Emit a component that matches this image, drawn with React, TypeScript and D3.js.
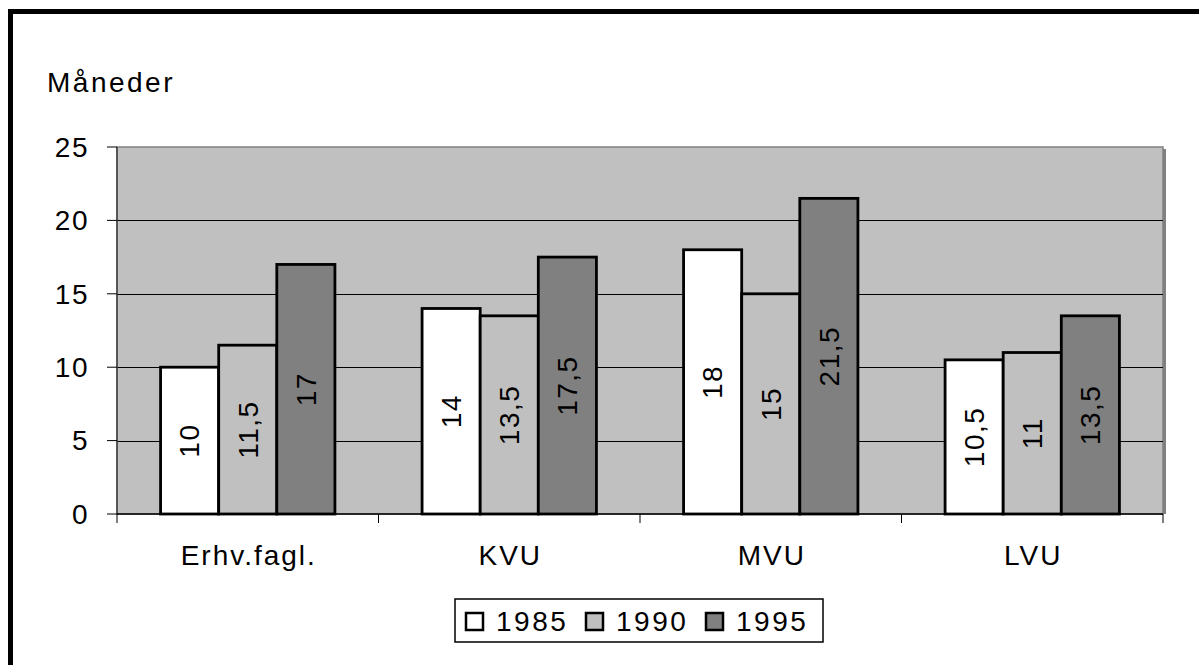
import React from "react";
import * as d3 from "d3";

const categories = ["Erhv.fagl.", "KVU", "MVU", "LVU"];
const seriesNames = ["1985", "1990", "1995"];
const values1985 = [10, 14, 18, 10.5];
const values1990 = [11.5, 13.5, 15, 11];
const values1995 = [17, 17.5, 21.5, 13.5];
const yTicks = [0, 5, 10, 15, 20, 25];
const seriesColors = ["#ffffff", "#c0c0c0", "#808080"];

const seriesValues = [values1985, values1990, values1995];

const W = 1199;
const H = 665;
const plot = { left: 117, top: 147, right: 1163, bottom: 514 };
const FONT = "'Liberation Sans', Arial, sans-serif";
const FS = 28;

const fmt = (v: number) => String(v).replace(".", ",");

export default function App() {
  const x0 = d3
    .scaleBand<string>()
    .domain(categories)
    .range([plot.left, plot.right])
    .padding(0);
  const band = x0.bandwidth();
  const w = band / 4.5;
  const x1 = d3
    .scaleBand<string>()
    .domain(seriesNames)
    .range([0.75 * w, 3.75 * w])
    .padding(0);
  const y = d3.scaleLinear().domain([0, 25]).range([plot.bottom, plot.top]);

  const legendX = 455;
  const legendY = 599;

  return (
    <svg
      width={W}
      height={H}
      style={{ position: "absolute", left: 0, top: 0, fontFamily: FONT }}
    >
      <rect x={0} y={0} width={W} height={H} fill="#fff" />
      {/* outer frame */}
      <rect
        x={10.5}
        y={11.5}
        width={W + 20}
        height={H + 20}
        fill="none"
        stroke="#000"
        strokeWidth={5}
      />
      {/* axis title */}
      <text x={47} y={92} fontSize={FS} letterSpacing={2.5} fill="#000">
        Måneder
      </text>
      {/* plot area */}
      <rect
        x={plot.left}
        y={plot.top}
        width={plot.right - plot.left}
        height={plot.bottom - plot.top}
        fill="#c0c0c0"
        stroke="#808080"
        strokeWidth={1.5}
      />
      <line
        x1={plot.right + 1.5}
        x2={plot.right + 1.5}
        y1={plot.top + 2}
        y2={plot.bottom}
        stroke="#808080"
        strokeWidth={3}
      />
      {/* gridlines */}
      {yTicks
        .filter((t) => t > 0 && t < 25)
        .map((t) => (
          <line
            key={"g" + t}
            x1={plot.left}
            x2={plot.right}
            y1={Math.round(y(t)) + 0.5}
            y2={Math.round(y(t)) + 0.5}
            stroke="#000"
            strokeWidth={1}
          />
        ))}
      {/* y axis */}
      <line
        x1={plot.left}
        x2={plot.left}
        y1={plot.top}
        y2={plot.bottom}
        stroke="#404040"
        strokeWidth={1.5}
      />
      {yTicks.map((t) => (
        <g key={"t" + t}>
          <line
            x1={plot.left - 10}
            x2={plot.left}
            y1={y(t)}
            y2={y(t)}
            stroke="#000"
            strokeWidth={1}
          />
          <text
            x={89}
            y={y(t)}
            dy="0.35em"
            textAnchor="end"
            fontSize={FS}
            letterSpacing={1.5}
            fill="#000"
          >
            {t}
          </text>
        </g>
      ))}
      {/* bars */}
      {categories.map((c, ci) =>
        seriesNames.map((s, si) => {
          const v = seriesValues[si][ci];
          const bx = (x0(c) as number) + (x1(s) as number);
          const bw = x1.bandwidth();
          const by = y(v);
          const bh = y(0) - by;
          const cx = bx + bw / 2;
          const cy = by + bh / 2;
          return (
            <g key={c + s}>
              <rect
                x={bx}
                y={by}
                width={bw}
                height={bh}
                fill={seriesColors[si]}
                stroke="#000"
                strokeWidth={2.8}
              />
              <text
                transform={`translate(${cx},${cy}) rotate(-90)`}
                textAnchor="middle"
                dy="0.35em"
                fontSize={FS}
                letterSpacing={1.5}
                fill="#000"
              >
                {fmt(v)}
              </text>
            </g>
          );
        })
      )}
      {/* x axis */}
      <line
        x1={plot.left}
        x2={plot.right}
        y1={plot.bottom}
        y2={plot.bottom}
        stroke="#000"
        strokeWidth={1.5}
      />
      {d3.range(categories.length + 1).map((i) => {
        const xx = plot.left + i * band;
        return (
          <line
            key={"xt" + i}
            x1={xx}
            x2={xx}
            y1={plot.bottom}
            y2={plot.bottom + 9}
            stroke="#000"
            strokeWidth={1}
          />
        );
      })}
      {categories.map((c) => (
        <text
          key={"c" + c}
          x={(x0(c) as number) + band / 2 + 1}
          y={565}
          textAnchor="middle"
          fontSize={FS}
          letterSpacing={2}
          fill="#000"
        >
          {c}
        </text>
      ))}
      {/* legend */}
      <rect
        x={legendX}
        y={legendY}
        width={823 - legendX}
        height={642 - legendY}
        fill="#fff"
        stroke="#000"
        strokeWidth={1.5}
      />
      {seriesNames.map((s, si) => {
        const lx = 466 + si * 120;
        return (
          <g key={"l" + s}>
            <rect
              x={lx}
              y={613}
              width={17}
              height={17}
              fill={seriesColors[si]}
              stroke="#000"
              strokeWidth={2.5}
            />
            <text
              x={lx + 30}
              y={621.5}
              dy="0.35em"
              fontSize={FS}
              letterSpacing={2.5}
              fill="#000"
            >
              {s}
            </text>
          </g>
        );
      })}
    </svg>
  );
}
